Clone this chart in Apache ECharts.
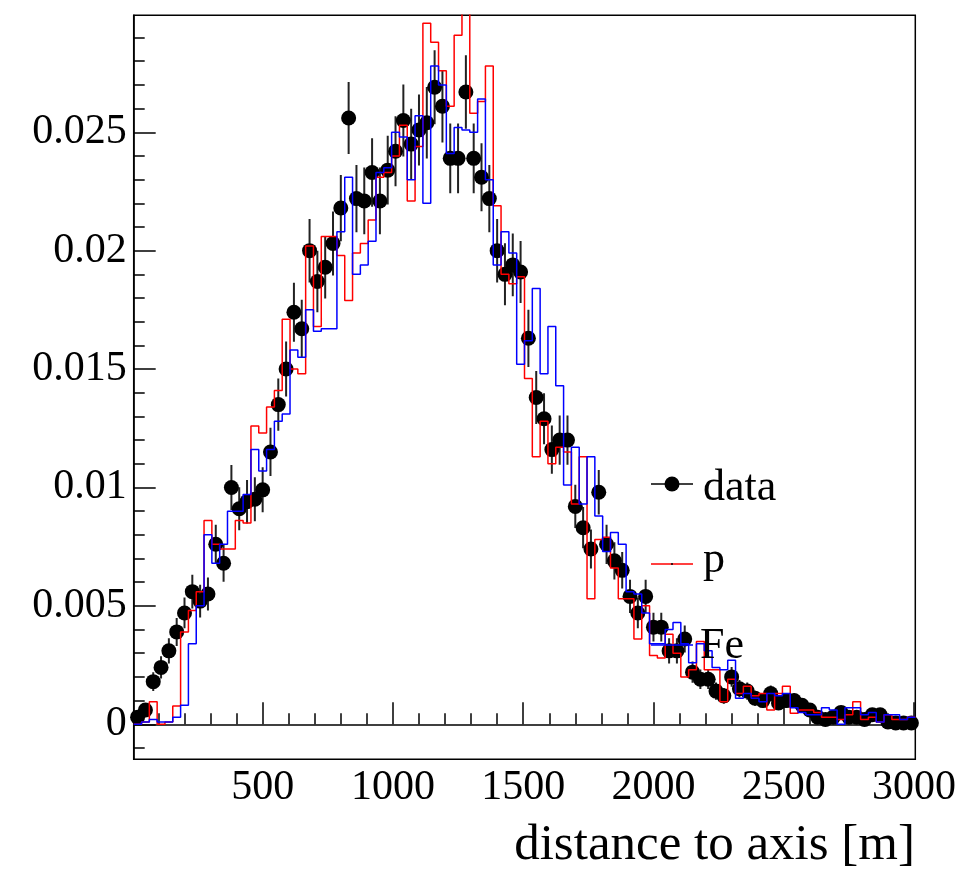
<!DOCTYPE html>
<html><head><meta charset="utf-8">
<script src="https://cdn.jsdelivr.net/npm/echarts@6/dist/echarts.min.js"></script>
<style>html,body{margin:0;padding:0;background:#fff}#c{width:965px;height:872px}</style>
</head><body><div id="c"></div>
<script>
// bin centres [m], 30 m wide bins
const binCenters = [20,50,80,110,140,170,200,230,260,290,320,350,380,410,440,470,500,530,560,590,
620,650,680,710,740,770,800,830,860,890,920,950,980,1010,1040,1070,1100,1130,1160,1190,
1220,1250,1280,1310,1340,1370,1400,1430,1460,1490,1520,1550,1580,1610,1640,1670,1700,1730,1760,1790,
1820,1850,1880,1910,1940,1970,2000,2030,2060,2090,2120,2150,2180,2210,2240,2270,2300,2330,2360,2390,
2420,2450,2480,2510,2540,2570,2600,2630,2660,2690,2720,2750,2780,2810,2840,2870,2900,2930,2960,2990];
const binWidth = 30;

const dataValues = [0.0003,0.0006,0.0018,0.0024,0.0031,0.0039,0.0047,0.0056,0.0052,0.0055,
0.0076,0.0068,0.0100,0.0091,0.0094,0.0095,0.0099,0.0115,0.0135,0.0150,
0.0174,0.0167,0.0200,0.0187,0.0193,0.0203,0.0218,0.0256,0.0222,0.0221,
0.0233,0.0221,0.0234,0.0242,0.0255,0.0245,0.0251,0.0254,0.0269,0.0261,
0.0239,0.0239,0.0267,0.0239,0.0231,0.0222,0.0200,0.0190,0.0194,0.0191,
0.0163,0.0138,0.0129,0.0116,0.0120,0.0120,0.0092,0.0083,0.0074,0.0098,
0.0076,0.0069,0.0065,0.0054,0.0047,0.0054,0.0041,0.0041,0.0031,0.0031,
0.0036,0.0022,0.0019,0.0019,0.0014,0.0012,0.0020,0.0015,0.0014,0.0011,
0.0010,0.0013,0.0009,0.0010,0.0010,0.0008,0.0006,0.0003,0.0002,0.0003,
0.0005,0.0003,0.0003,0.0002,0.0004,0.0004,0.0001,0.00005,0.00005,0.00005];

const dataErrors = [0.00016,0.00023,0.0004,0.00047,0.00053,0.00059,0.00065,0.00071,0.00069,0.0007,
0.00083,0.00078,0.00095,0.00091,0.00092,0.00093,0.00095,0.00102,0.0011,0.00116,
0.00125,0.00123,0.00134,0.0013,0.00132,0.00135,0.0014,0.00152,0.00142,0.00141,
0.00145,0.00141,0.00145,0.00148,0.00152,0.00149,0.0015,0.00151,0.00156,0.00153,
0.00147,0.00147,0.00155,0.00147,0.00144,0.00142,0.00134,0.00131,0.00132,0.00131,
0.00121,0.00112,0.00108,0.00102,0.00104,0.00104,0.00091,0.00087,0.00082,0.00094,
0.00083,0.00079,0.00077,0.0007,0.00065,0.0007,0.00061,0.00061,0.00053,0.00053,
0.00057,0.00045,0.00041,0.00041,0.00036,0.00033,0.00042,0.00037,0.00036,0.00032,
0.0003,0.00034,0.00028,0.0003,0.0003,0.00027,0.00023,0.00016,0.00013,0.00016,
0.00021,0.00016,0.00016,0.00013,0.00019,0.00019,0.0001,0.00007,0.00007,0.00007];

const protonValues = [0,0.0001,0.00095,0,0.0001,0.00077,0.0039,0.0048,0.0056,0.0086,
0.0076,0.0074,0.0074,0.0086,0.0085,0.0126,0.0123,0.0134,0.0141,0.0171,
0.0150,0.0148,0.0202,0.0168,0.0206,0.0206,0.0198,0.0179,0.0199,0.0203,
0.0213,0.0231,0.0233,0.0240,0.0253,0.0221,0.0244,0.0296,0.0288,0.0276,
0.0261,0.0291,0.0310,0.0258,0.0263,0.0278,0.0219,0.0190,0.0186,0.0189,
0.0146,0.0113,0.0128,0.0110,0.0117,0.0115,0.0093,0.0113,0.0053,0.0078,
0.0079,0.0066,0.0053,0.0053,0.0036,0.0050,0.0029,0.0028,0.0038,0.0030,
0.0020,0.0023,0.0035,0.0023,0.0023,0.00095,0.0019,0.0013,0.0016,0.0012,
0.0013,0.0006,0.0013,0.0016,0.00046,0.0006,0.0006,0.0005,0.0003,0.0003,
0.0002,0.0004,0.00095,0.0002,0.0003,0.0001,0.0004,0.0002,0.0002,0.0003];

const ironValues = [0,0.0001,0.0002,0.0001,0.0001,0.0003,0.0008,0.0034,0.0050,0.0080,
0.0068,0.0076,0.0090,0.0090,0.0097,0.0116,0.0107,0.0116,0.0128,0.0131,
0.0158,0.0155,0.0175,0.0166,0.0167,0.0167,0.0208,0.0231,0.0190,0.0194,
0.0204,0.0233,0.0235,0.0250,0.0248,0.0230,0.0257,0.0220,0.0278,0.0270,
0.0241,0.0252,0.0251,0.0250,0.0264,0.0230,0.0194,0.0208,0.0199,0.0152,
0.0162,0.0184,0.0148,0.0168,0.0143,0.0101,0.0117,0.0093,0.0113,0.0088,
0.0073,0.0081,0.0076,0.0056,0.0055,0.0047,0.0034,0.0034,0.0040,0.0043,
0.0034,0.0026,0.0034,0.0031,0.0024,0.0023,0.0027,0.0011,0.0013,0.0011,
0.00095,0.0013,0.0012,0.0013,0.0007,0.0005,0.0004,0.0004,0.0007,0.0006,
0.0000,0.0007,0.0007,0.0004,0.0005,0.0001,0.0004,0.0004,0.0002,0.0003];

const xTickValues = [500,1000,1500,2000,2500,3000];
const yTickValues = [0,0.005,0.01,0.015,0.02,0.025];
const yTickLabels = ['0','0.005','0.01','0.015','0.02','0.025'];
const legendLabels = ['data','p','Fe'];
const xTitle = 'distance to axis [m]';

const FONT = 'Liberation Serif, Times New Roman, serif';
const xMinor = []; for (let v = 100; v <= 2900; v += 100) xMinor.push(v);
const yMinor = []; for (let i = -1; i <= 29; i++) yMinor.push(+(i * 0.001).toFixed(4));

function stepData(vals) {
  const out = [];
  vals.forEach((v, i) => {
    out.push([binCenters[i] - binWidth / 2, v]);
    out.push([binCenters[i] + binWidth / 2, v]);
  });
  return out;
}

const chart = echarts.init(document.getElementById('c'), null, {renderer: 'canvas'});
const X0 = 5, X1 = 3005, Y0 = -0.00148, Y1 = 0.02994;
const axisCommon = {type: 'value', min: X0, max: X1, splitLine: {show: false}};
chart.setOption({
  animation: false,
  backgroundColor: '#fff',
  grid: {left: 133.7, right: 49.7, top: 15.3, bottom: 112.7, containLabel: false, outerBoundsMode: 'none',
         show: true, borderColor: '#000', borderWidth: 1.5, backgroundColor: 'transparent'},
  xAxis: [
    Object.assign({}, axisCommon, {
      position: 'bottom',
      axisLine: {show: true, lineStyle: {color: '#000', width: 1.5}},
      axisTick: {show: true, inside: true, length: 22, customValues: xTickValues, lineStyle: {color: '#000', width: 1.5}},
      axisLabel: {show: true, customValues: xTickValues, margin: 8, hideOverlap: false, fontFamily: FONT, fontSize: 42, color: '#000',
        formatter: function (v) { return String(Math.round(v)); }}
    }),
    Object.assign({}, axisCommon, {
      position: 'bottom',
      axisLine: {show: false},
      axisTick: {show: true, inside: true, length: 11, customValues: xMinor, lineStyle: {color: '#000', width: 1.5}},
      axisLabel: {show: false}
    })
  ],
  yAxis: [
    {type: 'value', min: Y0, max: Y1, splitLine: {show: false},
     axisLine: {show: true, lineStyle: {color: '#000', width: 1.5}},
     axisTick: {show: true, inside: true, length: 22, customValues: yTickValues, lineStyle: {color: '#000', width: 1.5}},
     axisLabel: {show: true, customValues: yTickValues, margin: 7, hideOverlap: false, fontFamily: FONT, fontSize: 42, color: '#000',
       formatter: function (v) { const i = yTickValues.findIndex(t => Math.abs(t - v) < 1e-9); return i >= 0 ? yTickLabels[i] : ''; }}},
    {type: 'value', min: Y0, max: Y1, position: 'left', splitLine: {show: false},
     axisLine: {show: false},
     axisTick: {show: true, inside: true, length: 11, customValues: yMinor, lineStyle: {color: '#000', width: 1.5}},
     axisLabel: {show: false}}
  ],
  series: [
    {type: 'custom', name: 'err', xAxisIndex: 0, yAxisIndex: 0, z: 2,
     data: binCenters.map((x, i) => [x, dataValues[i], dataErrors[i]]),
     renderItem: function (params, api) {
       const x = api.value(0), v = api.value(1), e = api.value(2);
       const p1 = api.coord([x, v - e]), p2 = api.coord([x, v + e]);
       return {type: 'line', shape: {x1: p1[0], y1: p1[1], x2: p2[0], y2: p2[1]}, style: {stroke: '#222', lineWidth: 2}};
     }, clip: true},
    {type: 'scatter', name: 'data', z: 3, symbol: 'circle', symbolSize: 15,
     itemStyle: {color: '#000', opacity: 1}, data: binCenters.map((x, i) => [x, dataValues[i]])},
    {type: 'line', name: 'p', z: 4, showSymbol: false, clip: true,
     lineStyle: {color: '#ff0000', width: 1.5}, data: stepData(protonValues)},
    {type: 'line', name: 'Fe', z: 5, showSymbol: false, clip: true,
     lineStyle: {color: '#0000ff', width: 1.5}, data: stepData(ironValues)}
  ],
  graphic: [
    {type: 'text', x: 915, y: 846, style: {text: xTitle, font: '51px ' + FONT, fill: '#000', align: 'right', verticalAlign: 'middle'}, z: 10},
    {type: 'line', shape: {x1: 651, y1: 484, x2: 693, y2: 484}, style: {stroke: '#000', lineWidth: 1.5}, z: 10},
    {type: 'circle', shape: {cx: 672, cy: 484, r: 7.5}, style: {fill: '#000'}, z: 10},
    {type: 'text', x: 703, y: 488, style: {text: legendLabels[0], font: '44px ' + FONT, fill: '#000', verticalAlign: 'middle'}, z: 10},
    {type: 'line', shape: {x1: 651, y1: 564, x2: 693, y2: 564}, style: {stroke: '#ff0000', lineWidth: 1.5}, z: 10},
    {type: 'circle', shape: {cx: 672, cy: 564, r: 1}, style: {fill: '#000'}, z: 10},
    {type: 'text', x: 703, y: 560, style: {text: legendLabels[1], font: '44px ' + FONT, fill: '#000', verticalAlign: 'middle'}, z: 10},
    {type: 'line', shape: {x1: 651, y1: 645, x2: 693, y2: 645}, style: {stroke: '#0000ff', lineWidth: 1.5}, z: 10},
    {type: 'text', x: 700, y: 646, style: {text: legendLabels[2], font: '44px ' + FONT, fill: '#000', verticalAlign: 'middle'}, z: 10}
  ]
});
</script></body></html>
